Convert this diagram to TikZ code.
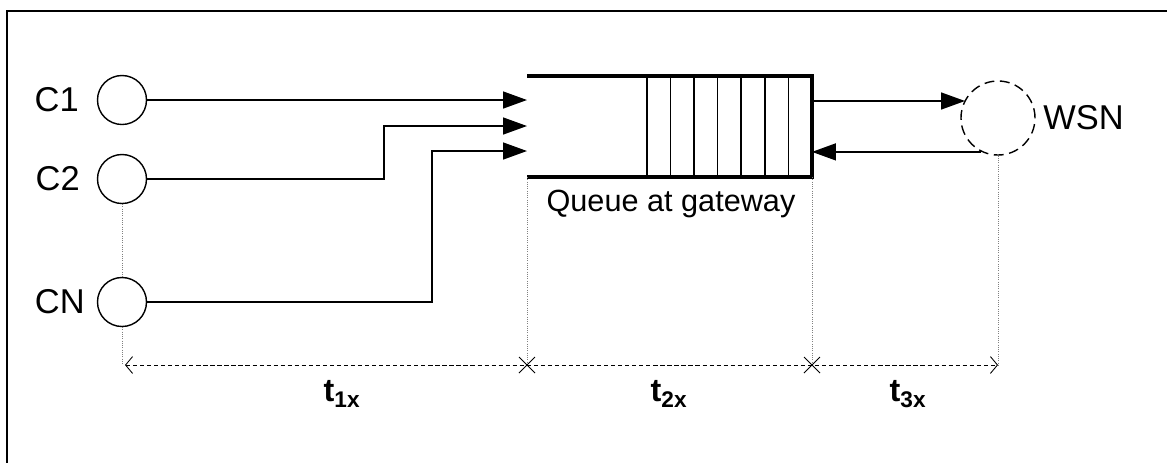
\documentclass[tikz,border=0pt]{standalone}
\usepackage{fontspec}
\setmainfont{Liberation Sans}
\usetikzlibrary{arrows.meta}

% the drawing grid is in pixels: 1 unit = 0.025cm, y grows downwards
\newcommand\labelfont{\fontsize{21.8}{24}\selectfont}
\newcommand\nodefont{\fontsize{24.5}{28}\selectfont}
\newcommand\timefont{\fontsize{23}{26}\selectfont\bfseries}
\newcommand\cellwidth{23.6}
\newcommand\queuetop{76}
\newcommand\queuebottom{177}

\tikzset{
  client/.style={circle, draw, line width=1pt, minimum size=1.225cm, inner sep=0pt},
  sensornet/.style={circle, draw, line width=1pt, dash pattern=on 7pt off 4pt,
    minimum size=1.85cm, inner sep=0pt},
  flow/.style={line width=1.2pt, -{Triangle[length=17pt, width=12pt]}},
  queueline/.style={line width=2.2pt},
  cell/.style={line width=1.1pt},
  guide/.style={densely dotted, gray, line width=0.6pt},
  dimline/.style={dash pattern=on 3pt off 2pt, line width=0.6pt,
    {Straight Barb[length=5pt, width=12pt]}-{Straight Barb[length=5pt, width=12pt]}},
  tag/.style={font=\nodefont, inner sep=0pt},
}

\begin{document}
\begin{tikzpicture}[x=0.025cm, y=-0.025cm]
  \useasboundingbox (0,0) rectangle (1167,463);
  \draw[line width=1.4pt] (1167,11) -- (7,11) -- (7,463);

  % clients
  \node[client] (c1) at (122,100) {};
  \node[client] (c2) at (122,179) {};
  \node[client] (cn) at (122,302) {};
  \node[tag, anchor=east] (c1lbl) at (79,100) {C1};
  \node[tag, anchor=east] (c2lbl) at (80,179) {C2};
  \node[tag, anchor=east] (cnlbl) at (85,302) {CN};

  % queue at the gateway
  \coordinate (qtl) at (527,\queuetop);
  \coordinate (qtr) at (812,\queuetop);
  \coordinate (qbr) at (812,\queuebottom);
  \coordinate (qbl) at (527,\queuebottom);
  \draw[queueline] (qtl) -- (qtr) -- (qbr) -- (qbl);
  \foreach \i in {1,...,7}
    \draw[cell] (812 - \i * \cellwidth, \queuetop) -- ++ (0, \queuebottom - \queuetop) ;
  \node[tag, font=\labelfont] (qlbl) at (671,204) {Queue at gateway};

  \coordinate (in1) at (527,100);
  \coordinate (in2) at (527,126);
  \coordinate (in3) at (527,151);
  \coordinate (k2) at (384,0);
  \coordinate (k3) at (432,0);
  \draw[flow] (c1.east) -- (in1);
  \draw[flow] (c2.east) -| (k2 |- in2) -- (in2);
  \draw[flow] (cn.east) -| (k3 |- in3) -- (in3);

  % sensor network
  \node[sensornet] (wsn) at (998,118) {};
  \node[tag, anchor=west] (wsnlbl) at (1043,118) {WSN};
  \coordinate (qout) at (812,101);
  \coordinate (qin) at (812,151);
  \draw[flow] (qout) -- (qout -| wsn.151);
  \draw[flow] (wsn.244) -- (wsn.244 -| qin);

  % timing
  \coordinate (d0) at (125,365);
  \coordinate (d1) at (527,365);
  \coordinate (d2) at (812,365);
  \coordinate (d3) at (998,365);
  \draw[guide] (c2.south) -- (cn.north);
  \draw[guide] (cn.south) -- (cn.south |- d0);
  \draw[guide] (qbl) -- (d1);
  \draw[guide] (qbr) -- (d2);
  \draw[guide] (wsn.south) -- (d3);
  \draw[dimline] (d0) -- (d3);
  \foreach \p in {d1,d2}
    \draw[line width=0.6pt] (\p) +(-8,-8) -- +(8,8) +(-8,8) -- +(8,-8);
  \node[font=\timefont, inner sep=0pt] (t1) at (342,394) {t\textsubscript{1x}};
  \node[font=\timefont, inner sep=0pt] (t2) at (669,394) {t\textsubscript{2x}};
  \node[font=\timefont, inner sep=0pt] (t3) at (908,394) {t\textsubscript{3x}};
\end{tikzpicture}
\end{document}
